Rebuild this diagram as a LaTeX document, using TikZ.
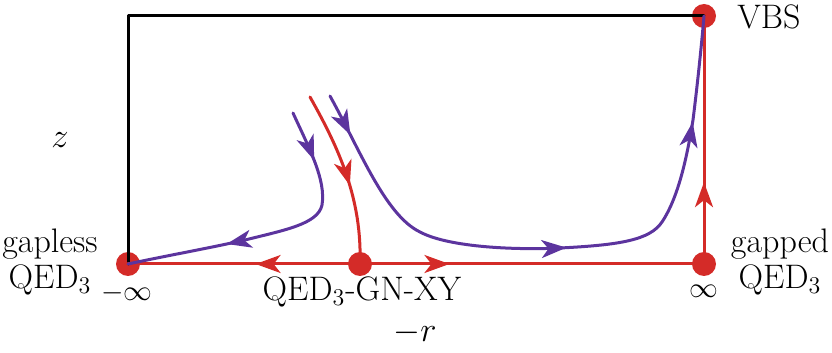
\documentclass[tikz,border=0pt]{standalone}
\usepackage{tikz}
\usetikzlibrary{arrows.meta,decorations.markings}
\definecolor{fpred}{RGB}{212,43,40}
\definecolor{flowpurple}{RGB}{92,52,158}

\tikzset{
  fixpt/.style={circle,fill=fpred,inner sep=0pt,minimum size=12pt},
  lbl/.style={font=\fontsize{17}{18}\selectfont,align=center,inner sep=0pt},
  inflbl/.style={font=\fontsize{15}{16}\selectfont,inner sep=0pt},
  midarrow/.style={postaction={decorate,decoration={markings,
      mark=at position #1 with {\arrow{Stealth[length=12.5pt,width=9pt,inset=3.5pt]}}}}},
}

\begin{document}
\begin{tikzpicture}[x=0.5pt, y=-0.5pt, line cap=round, line join=round]
  \useasboundingbox (0,0) rectangle (832,353);

  % fixed points
  \node[fixpt] (ninf) at (128,264) {};
  \node[fixpt] (gnxy) at (360,264) {};
  \node[fixpt] (pinf) at (704,264) {};
  \node[fixpt] (vbs)  at (704,16)  {};
  \coordinate (corner) at (128,16);

  % frame
  \draw[line width=1.5pt,black] (ninf.center) -- (corner) -- (vbs.center);

  % red flows
  \draw[line width=1.5pt,fpred,midarrow=0.45] (gnxy.center) -- (ninf.center);
  \draw[line width=1.5pt,fpred,midarrow=0.26] (gnxy.center) -- (pinf.center);
  \draw[line width=1.5pt,fpred,midarrow=0.33] (pinf.center) -- (vbs.center);
  \coordinate (rstart) at (310,97);
  \draw[line width=1.5pt,fpred,midarrow=0.55] (rstart) .. controls (340,150) and (362,200) .. (gnxy.center);

  % purple flows
  \coordinate (pl) at (293,113);
  \coordinate (pr) at (330,96);
  \draw[line width=1.5pt,flowpurple,midarrow=0.17,midarrow=0.67]
    (pl) .. controls (310,150) and (326,180) .. (322,205)
         .. controls (318,224) and (285,230) .. (245,240)
         .. controls (205,249) and (170,255) .. (ninf.center);
  \draw[line width=1.5pt,flowpurple,midarrow=0.07,midarrow=0.5,midarrow=0.83]
    (pr) .. controls (360,150) and (385,215) .. (420,232)
         .. controls (450,248) and (520,250) .. (560,248)
         .. controls (620,245) and (650,240) .. (662,222)
         .. controls (680,195) and (688,150) .. (693,120)
         .. controls (698,80) and (702,40) .. (vbs.center);

  % labels
  \node[lbl,anchor=west] (vbslbl) at (737,17) {VBS};
  \node[lbl] (gapless) at (50,262) {gapless\\QED$_3$};
  \node[lbl] (gapped) at (780,262) {gapped\\QED$_3$};
  \node[inflbl] (mninf) at (127,293) {$-\infty$};
  \node[lbl] (gnlbl) at (362,292) {QED$_3$-GN-XY};
  \node[inflbl] (pinflbl) at (704,291) {$\infty$};
  \node[lbl] (zlbl) at (60,140) {$z$};
  \node[lbl] (rlbl) at (415,333) {$-r$};
\end{tikzpicture}
\end{document}
